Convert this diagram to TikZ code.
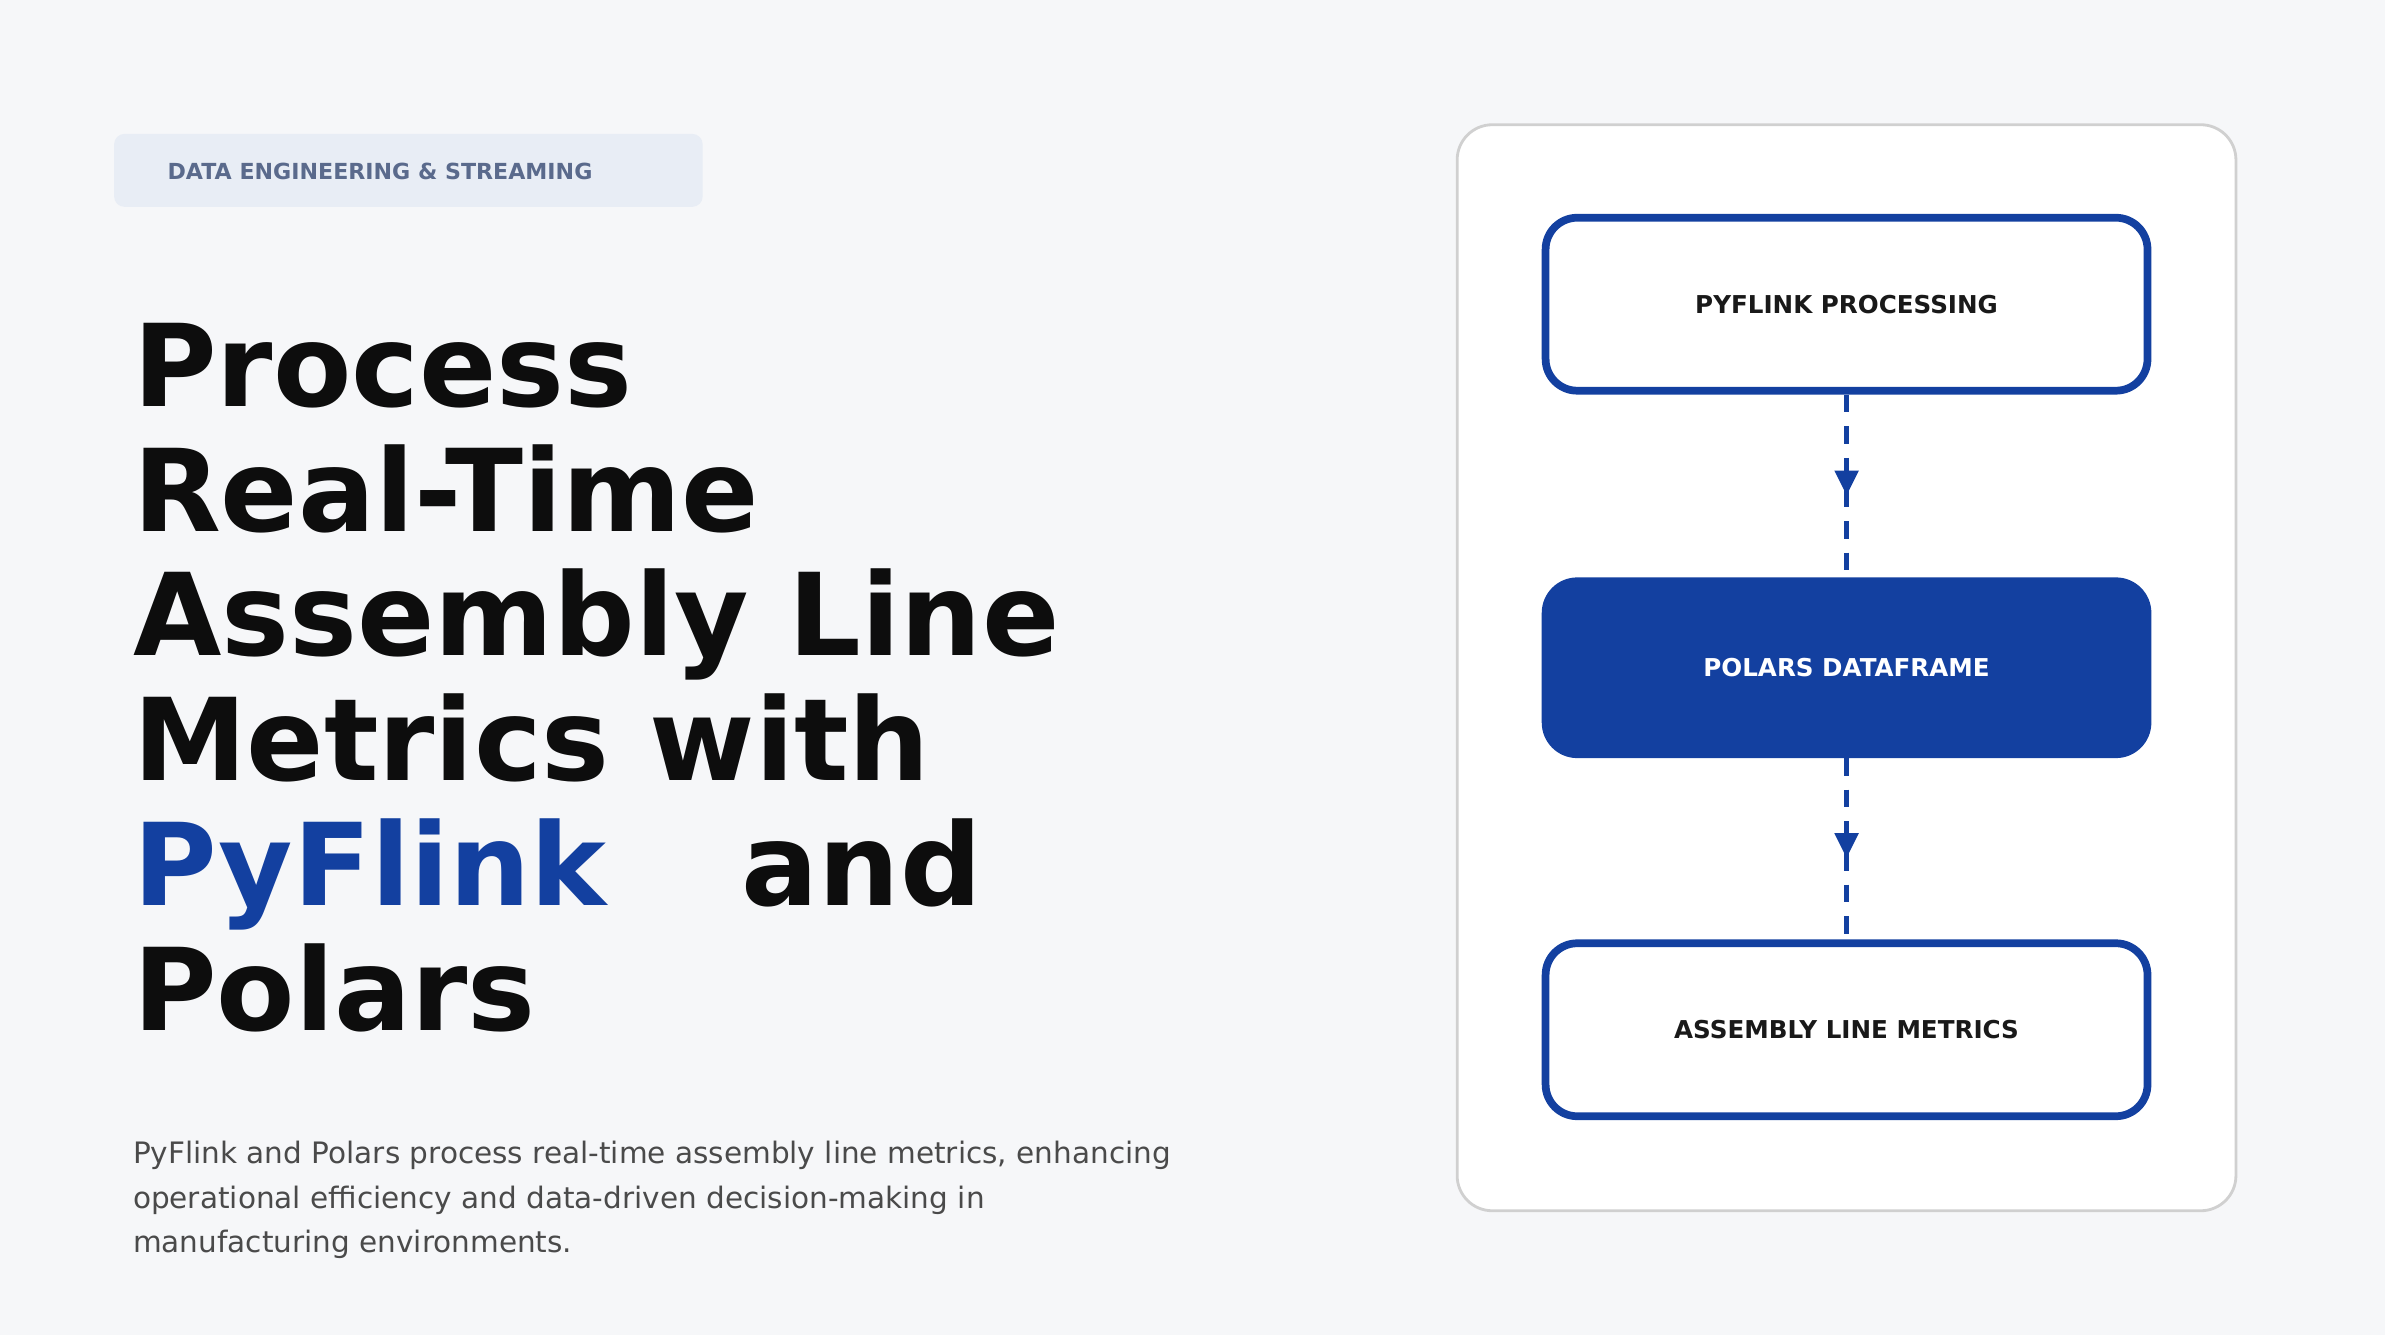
\documentclass[tikz,border=0pt]{standalone}
\usepackage{fontspec}
\setmainfont{DejaVu Sans}
\usetikzlibrary{arrows.meta,decorations.markings}
\definecolor{pagebg}{HTML}{F6F7F9}
\definecolor{tagbg}{HTML}{E8EDF5}
\definecolor{tagfg}{HTML}{5A6A8C}
\definecolor{flinkblue}{HTML}{1340A0}
\definecolor{cardline}{HTML}{D0D0D0}
\definecolor{bodytext}{HTML}{4A4A4A}
\tikzset{
  stagebox/.style={draw=flinkblue, line width=2.2pt, rounded corners=9pt, fill=white,
    minimum width=6.02cm, minimum height=1.73cm, font=\fontsize{7}{8}\selectfont\bfseries, text=black!90},
  filledbox/.style={stagebox, fill=flinkblue, text=white},
  flowline/.style={draw=flinkblue, line width=1.6pt, dash pattern=on 5pt off 4pt,
    postaction={decorate}, decoration={markings, mark=at position 0.55 with {\arrow[flinkblue, line width=0pt]{Triangle[width=7pt,length=7pt]}}}}
}
\begin{document}
\begin{tikzpicture}[x=0.01521cm, y=-0.01521cm]
  \fill[pagebg] (0,0) rectangle (1568,878);
  \useasboundingbox (0,0) rectangle (1568,878);

  % tag
  \fill[tagbg, rounded corners=3pt] (75,88) rectangle (462,136);
  \node[anchor=west, text=tagfg, font=\fontsize{6.3}{7}\selectfont\bfseries] (tag) at (102,113) {DATA ENGINEERING \& STREAMING};

  % title
  \node[anchor=north west, align=left, inner sep=0pt, text=black!95,
    font=\fontsize{32.5}{35.5}\selectfont\bfseries] (title) at (87,212)
    {Process\\Real-Time\\Assembly Line\\Metrics with\\\textcolor{flinkblue}{PyFlink}\hspace{1.35cm}and\\Polars};

  % summary
  \node[anchor=north west, align=left, inner sep=0pt, text=bodytext,
    font=\fontsize{8.4}{12.6}\selectfont] (summary) at (87,750)
    {PyFlink and Polars process real-time assembly line metrics, enhancing\\operational efficiency and data-driven decision-making in\\manufacturing environments.};

  % card
  \draw[cardline, line width=0.8pt, fill=white, rounded corners=10pt] (958,82) rectangle (1470,796);

  \node[stagebox] (flink) at (1214,200) {PYFLINK PROCESSING};
  \node[filledbox] (polars) at (1214,439) {POLARS DATAFRAME};
  \node[stagebox] (metrics) at (1214,677) {ASSEMBLY LINE METRICS};

  \draw[flowline] (flink) -- (polars);
  \draw[flowline] (polars) -- (metrics);
\end{tikzpicture}
\end{document}
